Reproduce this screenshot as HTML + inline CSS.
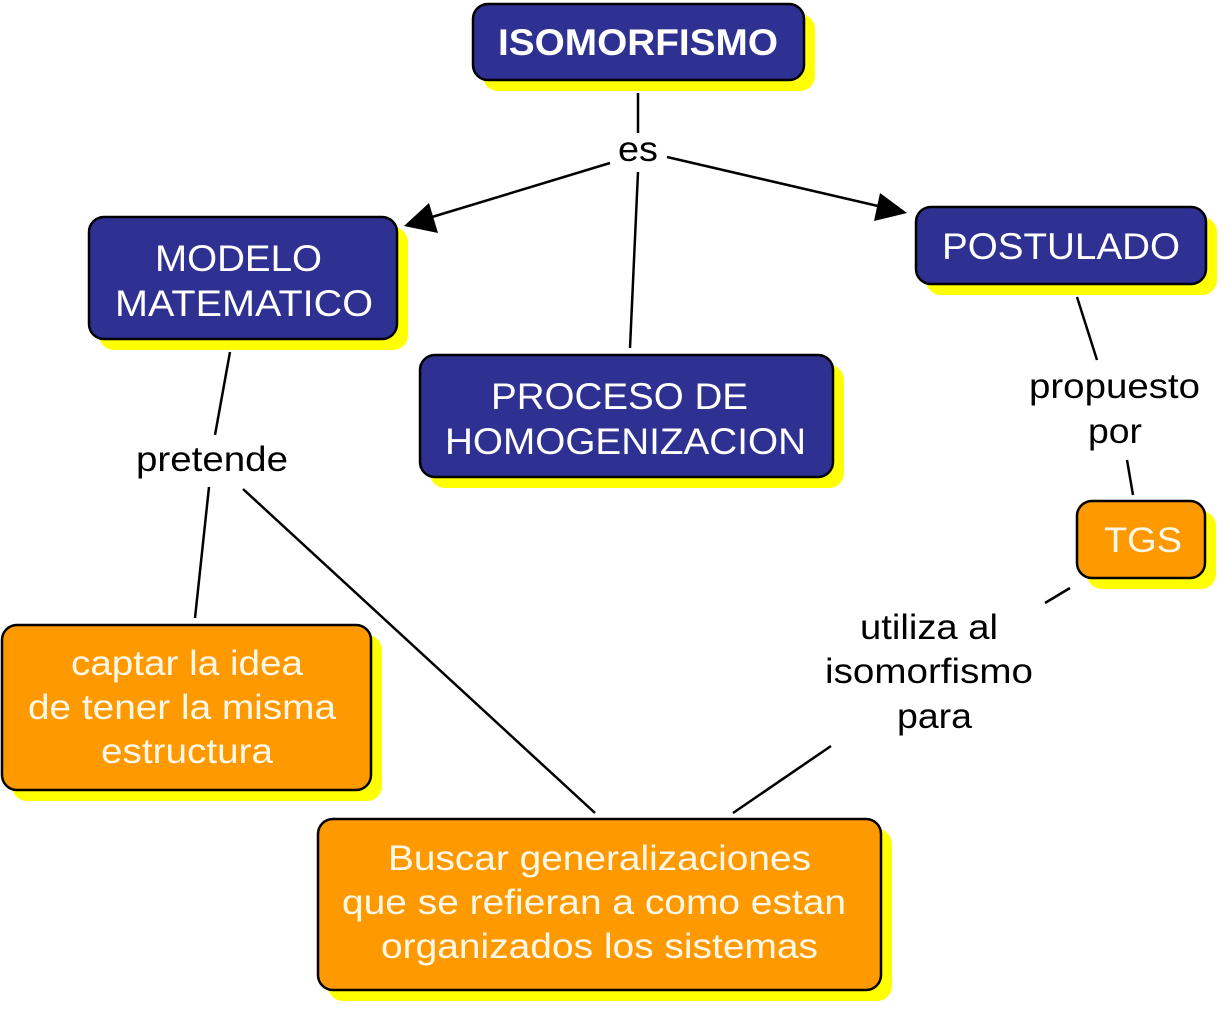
<!DOCTYPE html>
<html><head><meta charset="utf-8"><style>
html,body{margin:0;padding:0;background:#fff;}
svg{display:block;}
text{font-family:"Liberation Sans",sans-serif;}
</style></head><body>
<svg width="1226" height="1010" viewBox="0 0 1226 1010" xmlns="http://www.w3.org/2000/svg">
<g fill="#ffff00">
<rect x="483" y="14" width="332" height="77" rx="15"/>
<rect x="99" y="227" width="309" height="123" rx="15"/>
<rect x="430" y="365" width="414" height="123" rx="15"/>
<rect x="926" y="217" width="291" height="78" rx="15"/>
<rect x="1087" y="511" width="129" height="78" rx="15"/>
<rect x="12" y="635" width="370" height="166" rx="15"/>
<rect x="328" y="829" width="564" height="172" rx="15"/>
</g>
<g stroke="#000" stroke-width="2.5">
<rect x="473" y="4" width="331" height="76" rx="15" fill="#2e3192"/>
<rect x="89" y="217" width="308" height="122" rx="15" fill="#2e3192"/>
<rect x="420" y="355" width="413" height="122" rx="15" fill="#2e3192"/>
<rect x="916" y="207" width="290" height="77" rx="15" fill="#2e3192"/>
<rect x="1077" y="501" width="128" height="77" rx="15" fill="#ff9900"/>
<rect x="2" y="625" width="369" height="165" rx="15" fill="#ff9900"/>
<rect x="318" y="819" width="563" height="171" rx="15" fill="#ff9900"/>
</g>
<g stroke="#000" stroke-width="2.5" fill="none">
<line x1="638" y1="93" x2="638" y2="133"/>
<line x1="610" y1="163" x2="432" y2="217"/>
<line x1="667" y1="157" x2="878" y2="206"/>
<line x1="638" y1="172" x2="630" y2="348"/>
<line x1="230" y1="352" x2="215" y2="435"/>
<line x1="209" y1="487" x2="195" y2="618"/>
<line x1="243" y1="489" x2="595" y2="813"/>
<line x1="1077" y1="297" x2="1097" y2="360"/>
<line x1="1127" y1="460" x2="1133" y2="495"/>
<line x1="1070" y1="588" x2="1045" y2="603"/>
<line x1="831" y1="746" x2="733" y2="813"/>
</g>
<polygon points="404,226 429,203 438,233" fill="#000"/>
<polygon points="907,213 880,193 874,221" fill="#000"/>
<g fill="#fff" font-size="37" lengthAdjust="spacingAndGlyphs">
<text x="498" y="55" font-weight="bold" textLength="280" lengthAdjust="spacingAndGlyphs">ISOMORFISMO</text>
<text x="155" y="271" textLength="167" lengthAdjust="spacingAndGlyphs">MODELO</text>
<text x="115" y="316" textLength="258" lengthAdjust="spacingAndGlyphs">MATEMATICO</text>
<text x="491" y="409" textLength="257" lengthAdjust="spacingAndGlyphs">PROCESO DE</text>
<text x="445" y="454" textLength="361" lengthAdjust="spacingAndGlyphs">HOMOGENIZACION</text>
<text x="942" y="259" textLength="238" lengthAdjust="spacingAndGlyphs">POSTULADO</text>
</g>
<g fill="#fff8e8" font-size="35">
<text x="1104" y="552" textLength="78" lengthAdjust="spacingAndGlyphs">TGS</text>
<text x="71" y="675" textLength="232" lengthAdjust="spacingAndGlyphs">captar la idea</text>
<text x="28" y="719" textLength="308" lengthAdjust="spacingAndGlyphs">de tener la misma</text>
<text x="101" y="763" textLength="172" lengthAdjust="spacingAndGlyphs">estructura</text>
<text x="388" y="870" textLength="423" lengthAdjust="spacingAndGlyphs">Buscar generalizaciones</text>
<text x="342" y="914" textLength="504" lengthAdjust="spacingAndGlyphs">que se refieran a como estan</text>
<text x="381" y="958" textLength="437" lengthAdjust="spacingAndGlyphs">organizados los sistemas</text>
</g>
<g fill="#000" font-size="35">
<text x="618" y="161" textLength="40" lengthAdjust="spacingAndGlyphs">es</text>
<text x="136" y="471" textLength="152" lengthAdjust="spacingAndGlyphs">pretende</text>
<text x="1029" y="398" textLength="171" lengthAdjust="spacingAndGlyphs">propuesto</text>
<text x="1088" y="443" textLength="54" lengthAdjust="spacingAndGlyphs">por</text>
<text x="860" y="639" textLength="138" lengthAdjust="spacingAndGlyphs">utiliza al</text>
<text x="825" y="683" textLength="208" lengthAdjust="spacingAndGlyphs">isomorfismo</text>
<text x="897" y="728" textLength="75" lengthAdjust="spacingAndGlyphs">para</text>
</g>
</svg>
</body></html>
